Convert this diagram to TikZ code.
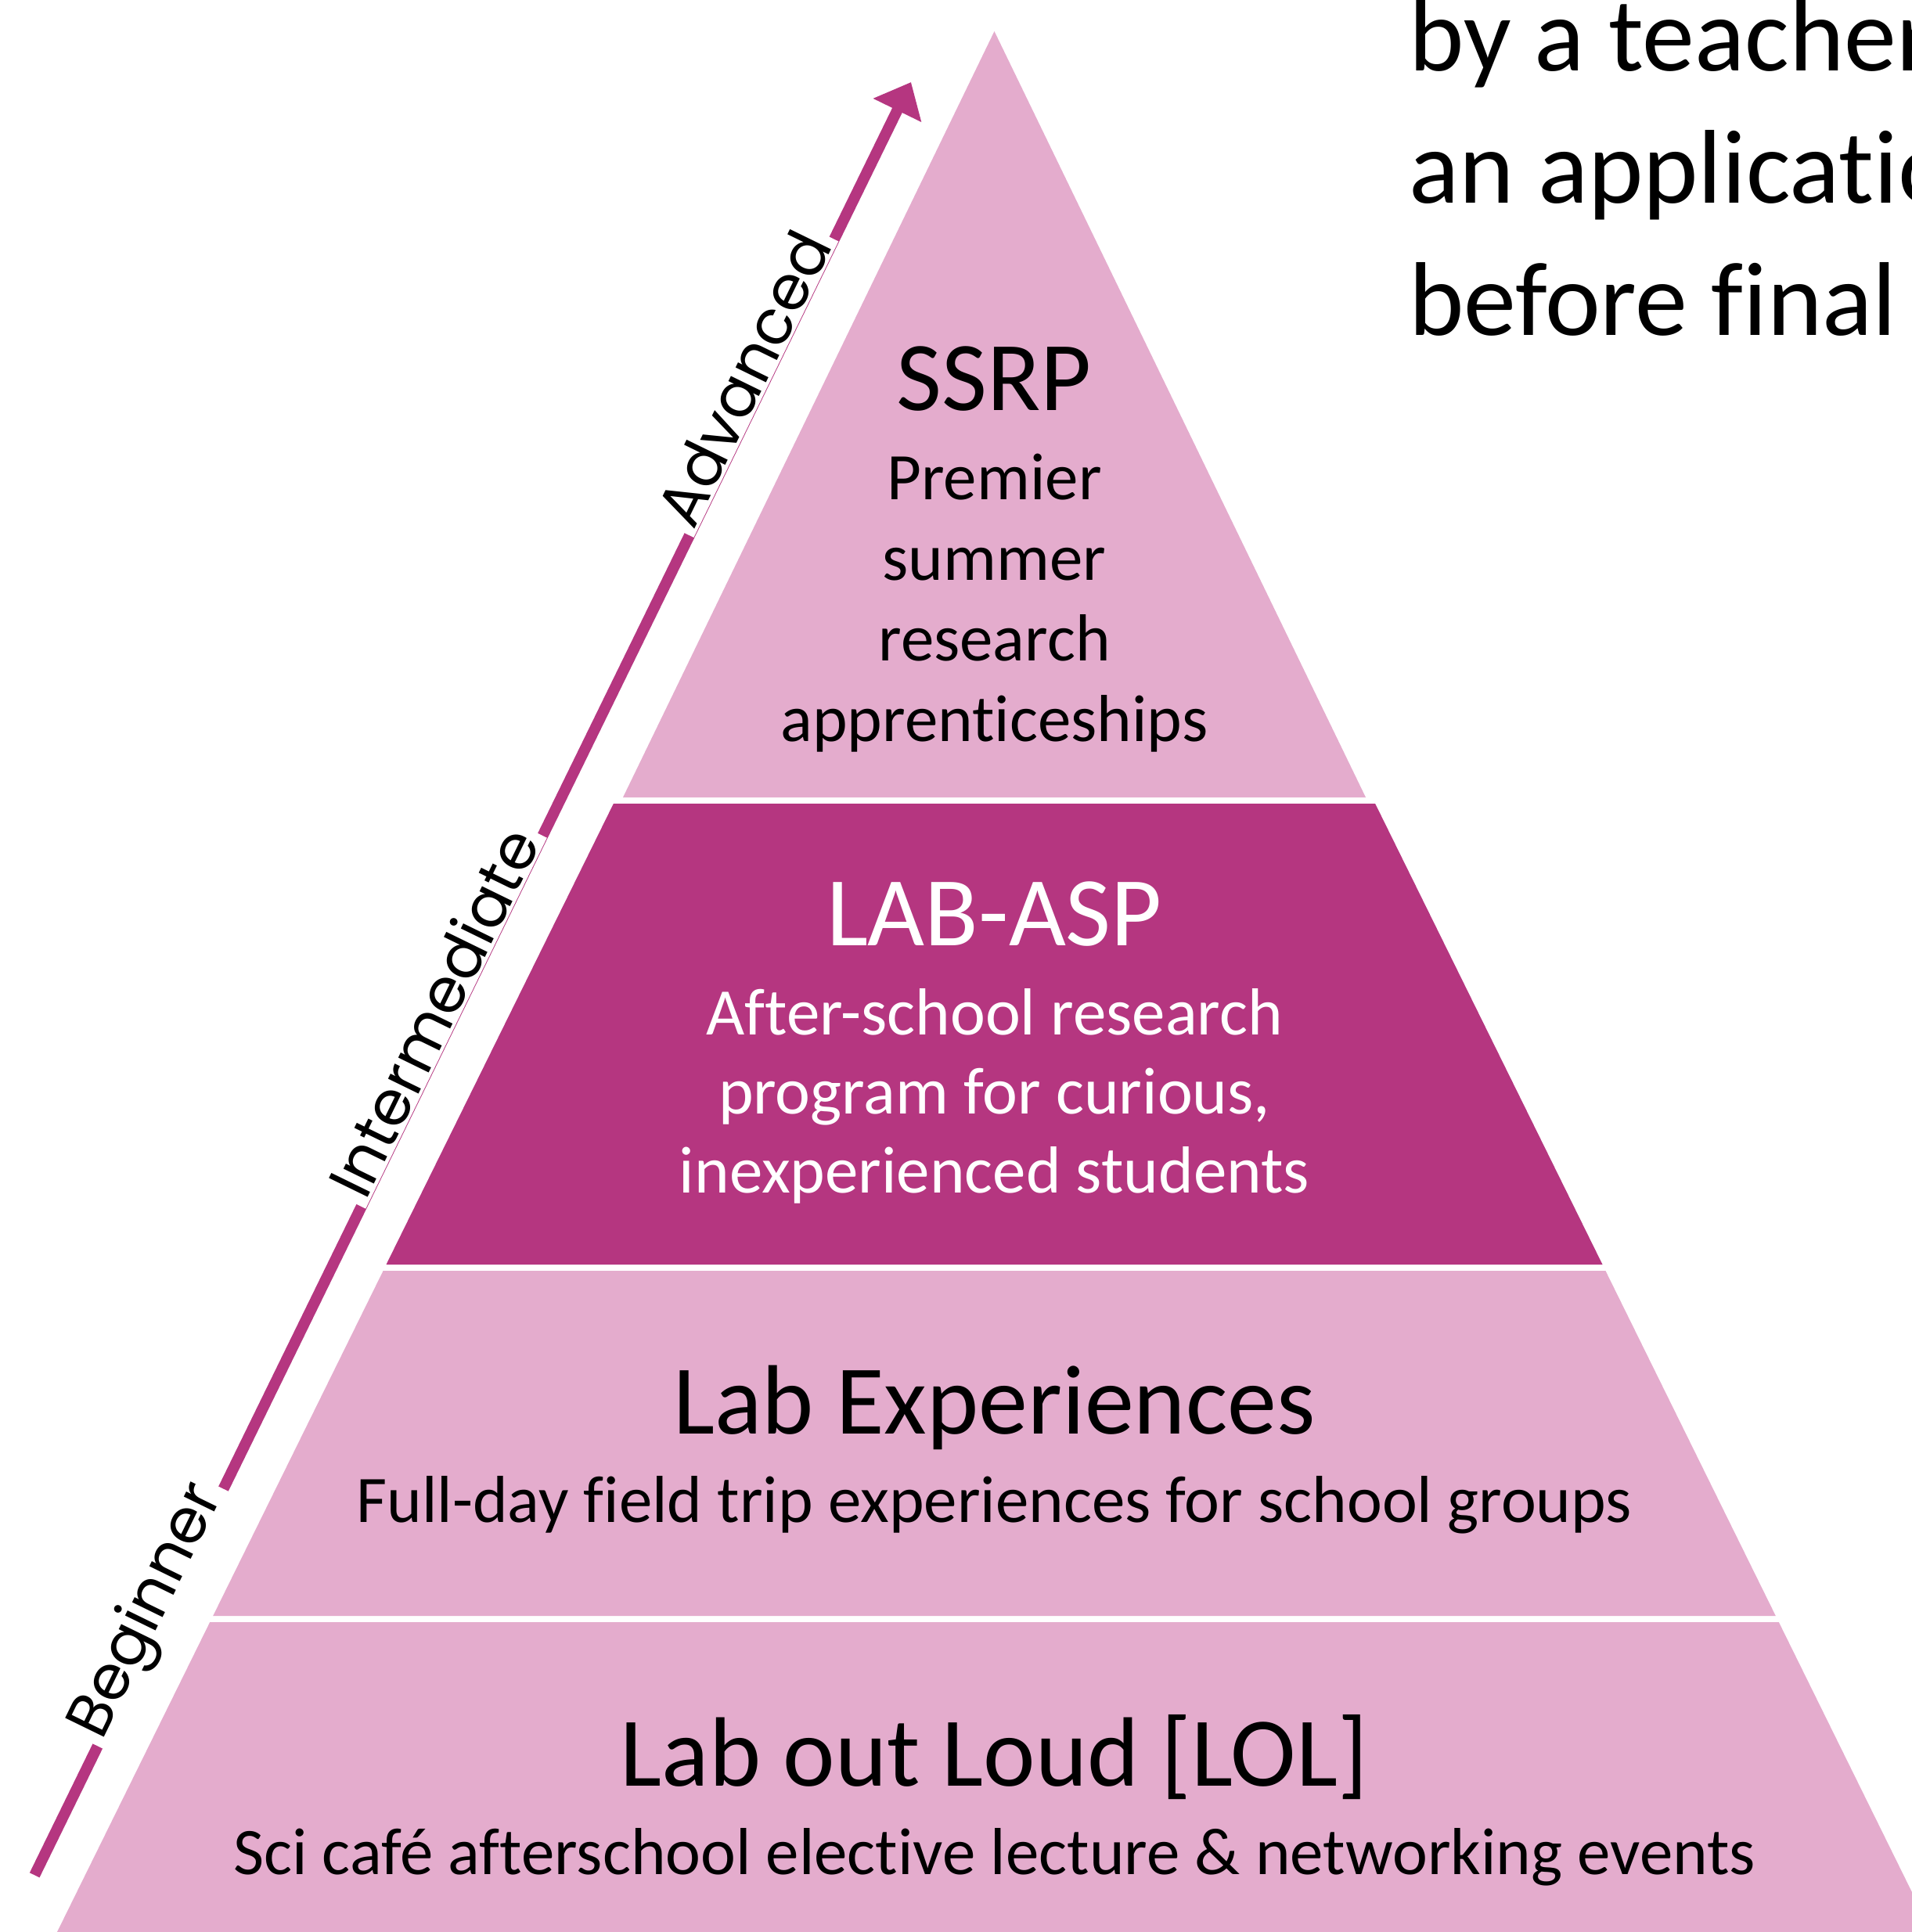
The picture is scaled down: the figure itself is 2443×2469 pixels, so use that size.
\documentclass[tikz,border=0pt]{standalone}
\usepackage{fontspec}
\setmainfont[Ligatures=CommonOff]{Carlito}
\newfontfamily\lvlfont{Poppins}
\usetikzlibrary{arrows.meta}
\definecolor{pkdark}{RGB}{181,54,128}
\definecolor{pklight}{RGB}{228,172,205}
\begin{document}
\begin{tikzpicture}[x=1pt,y=-1pt,
  tier/.style={fill=pklight},
  tierdark/.style={fill=pkdark},
  title/.style={inner sep=0pt, anchor=base, font=\fontsize{126}{151}\selectfont},
  body/.style={inner sep=0pt, anchor=base, font=\fontsize{85}{102}\selectfont},
  side/.style={inner sep=0pt, anchor=base west, font=\fontsize{134}{168}\selectfont},
  lvl/.style={sloped, anchor=mid, fill=white, inner xsep=8pt, inner ysep=3pt, font=\lvlfont\fontsize{79}{90}\selectfont},
  arrowline/.style={draw=pkdark, line width=14pt, -{Triangle[length=40pt,width=66pt]}}]
\clip (0,0) rectangle (2443,2469);
\fill[white] (0,0) rectangle (2443,2469);

% tiers
\fill[tier] (1270.5,40) -- (1745,1019) -- (796,1019) -- cycle;
\fill[tierdark] (783.9,1027) -- (1757.1,1027) -- (2047.5,1616) -- (493.5,1616) -- cycle;
\fill[tier] (489.6,1624) -- (2051.4,1624) -- (2268.8,2065) -- (272.2,2065) -- cycle;
\fill[tier] (268.2,2073) -- (2272.8,2073) -- (2483.3,2500) -- (57.7,2500) -- cycle;

% texts in tiers
\node[title] (ssrp) at (1270.5,524) {SSRP};
\node[body] (ssrp1) at (1270.5,638) {Premier};
\node[body] (ssrp2) at (1270.5,741) {summer};
\node[body] (ssrp3) at (1270.5,844) {research};
\node[body] (ssrp4) at (1270.5,947) {apprenticeships};

\node[title, text=white] (asp) at (1270.5,1208) {LAB-ASP};
\node[body, text=white] (asp1) at (1270.5,1322) {After-school research};
\node[body, text=white] (asp2) at (1270.5,1423) {program for curious,};
\node[body, text=white] (asp3) at (1270.5,1524) {inexperienced students};

\node[title] (labx) at (1270.5,1832) {Lab Experiences};
\node[body] (labx1) at (1270.5,1945) {Full-day field trip experiences for school groups};

\node[title] (lol) at (1270.5,2282) {Lab out Loud [LOL]};
\node[body] (lol1) at (1270.5,2395) {Sci café afterschool elective lecture \& networking events};

% side text (cut by the page edge)
\node[side] (tr1) at (1800,90) {by a teacher};
\node[side] (tr2) at (1800,259) {an application};
\node[side] (tr3) at (1800,428) {before final};

% level arrow
\coordinate (atail) at (44.2,2396.3);
\coordinate (atip) at (1164,105);
\draw[arrowline] (atail) -- (atip);
\path (atail) -- (atip)
  node[lvl, pos=0.1437] (beg) {Beginner}
  node[lvl, pos=0.4763] (inter) {Intermediate}
  node[lvl, pos=0.8298] (adv) {Advanced};
\end{tikzpicture}
\end{document}
